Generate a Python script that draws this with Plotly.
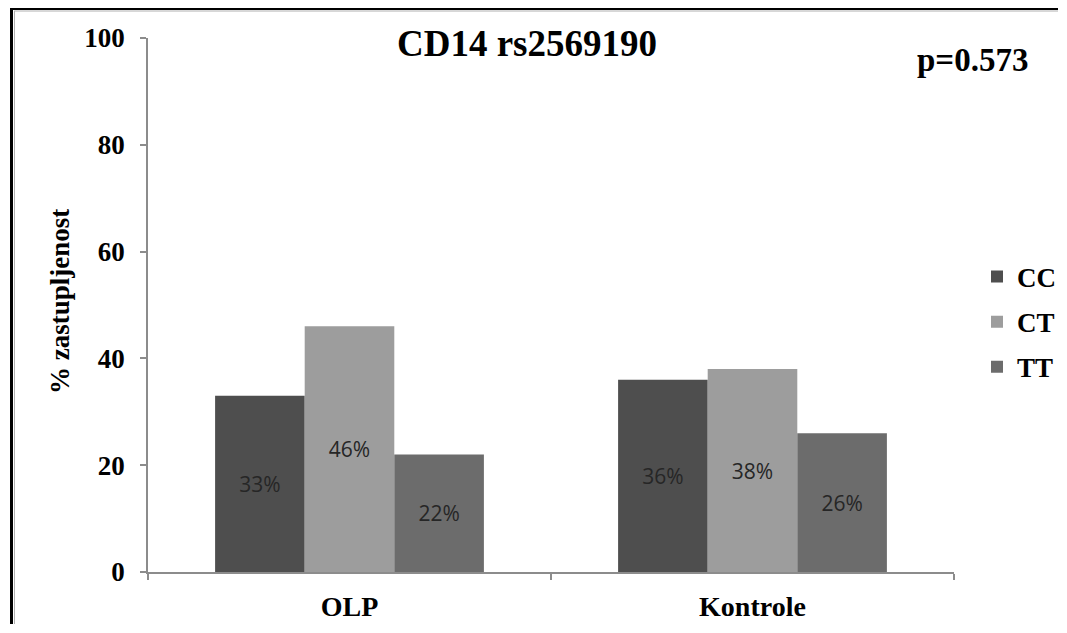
import plotly.graph_objects as go

categories = ["OLP", "Kontrole"]
genotypes = ["CC", "CT", "TT"]
cc_values = [33, 36]
ct_values = [46, 38]
tt_values = [22, 26]
y_ticks = [0, 20, 40, 60, 80, 100]

series = [cc_values, ct_values, tt_values]
colors = ["#4e4e4e", "#9d9d9d", "#6c6c6c"]

# page body has an 8px margin; figure sized so the page fits the window
OFF = 8
W, H = 1050, 616
L, R, T, B = 140, 104, 30, 52
pw, ph = W - L - R, H - T - B

def px_x(x):
    # x in screen pixels -> paper coordinate
    return (x - OFF - L) / pw

def px_y(y):
    return (H - B - (y - OFF)) / ph

serif = "Liberation Serif"

fig = go.Figure()
for name, vals, col in zip(genotypes, series, colors):
    fig.add_trace(go.Bar(
        x=categories, y=vals, name=name, legendgroup=name,
        marker=dict(color=col, line=dict(width=0)),
        text=[f"{v}%" for v in vals], textposition="inside",
        insidetextanchor="middle",
        textfont=dict(family="Open Sans", size=21, color="#262626"),
        cliponaxis=False,
    ))

fig.update_layout(
    width=W, height=H,
    margin=dict(l=L, r=R, t=T, b=B, autoexpand=False),
    paper_bgcolor="white", plot_bgcolor="white",
    barmode="group", bargap=0.333, bargroupgap=0,
    showlegend=True,
    legend=dict(
        x=px_x(977), y=px_y(322), xanchor="left", yanchor="middle",
        traceorder="grouped", tracegroupgap=7,
        font=dict(family=serif, size=27, color="black", weight="bold"),
        itemwidth=30, bgcolor="rgba(0,0,0,0)",
    ),
    xaxis=dict(
        showline=True, linecolor="#8c8c8c", linewidth=1.5,
        ticks="outside", ticklen=6, tickcolor="#8c8c8c", tickwidth=1.5,
        tickson="boundaries", showgrid=False, zeroline=False,
        tickfont=dict(family=serif, size=28, color="black", weight="bold"),
        ticklabelstandoff=9,
    ),
    yaxis=dict(
        range=[0, 100], tickvals=y_ticks,
        showline=True, linecolor="#8c8c8c", linewidth=1.5,
        ticks="outside", ticklen=6, tickcolor="#8c8c8c", tickwidth=1.5,
        showgrid=False, zeroline=False,
        tickfont=dict(family=serif, size=27, color="black", weight="bold"),
        ticklabelstandoff=10,
    ),
    annotations=[
        dict(text="CD14 rs2569190", xref="paper", yref="paper",
             x=px_x(527), y=px_y(43), xanchor="center", yanchor="middle",
             showarrow=False,
             font=dict(family=serif, size=37, color="black", weight="bold")),
        dict(text="p=0.573", xref="paper", yref="paper",
             x=px_x(972), y=px_y(60), xanchor="center", yanchor="middle",
             showarrow=False,
             font=dict(family=serif, size=33, color="black", weight="bold")),
        dict(text="% zastupljenost", xref="paper", yref="paper",
             x=px_x(60), y=px_y(302), xanchor="center", yanchor="middle",
             textangle=-90, showarrow=False,
             font=dict(family=serif, size=27, color="black", weight="bold")),
    ],
    shapes=[
        dict(type="line", xref="paper", yref="paper",
             x0=px_x(11.5), x1=px_x(11.5), y0=px_y(8.5), y1=px_y(700),
             line=dict(color="black", width=3)),
        dict(type="line", xref="paper", yref="paper",
             x0=px_x(10), x1=px_x(1100), y0=px_y(8.5), y1=px_y(8.5),
             line=dict(color="black", width=3)),
        dict(type="line", xref="paper", yref="paper",
             x0=px_x(14.5), x1=px_x(14.5), y0=px_y(11), y1=px_y(700),
             line=dict(color="#b0b0b0", width=1)),
        dict(type="line", xref="paper", yref="paper",
             x0=px_x(14), x1=px_x(1100), y0=px_y(11), y1=px_y(11),
             line=dict(color="#b0b0b0", width=1)),
    ],
)

fig.write_html("out.html")
